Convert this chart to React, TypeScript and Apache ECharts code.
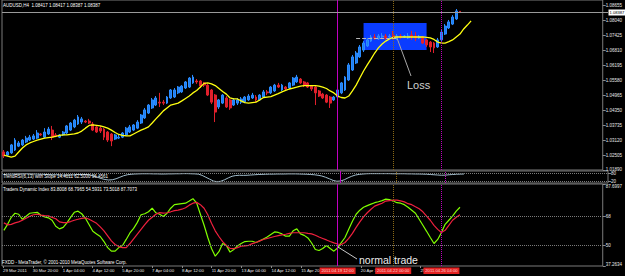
import React, { useEffect, useRef } from "react";
import * as echarts from "echarts";

const FONT = '"Liberation Sans", Arial, sans-serif';
const TXT = "#e8e8e8";

const timeLabels = ["29 Mar 2011", "30 Mar 20:00", "1 Apr 04:00", "4 Apr 12:00", "5 Apr 20:00", "7 Apr 04:00", "8 Apr 12:00", "11 Apr 20:00", "13 Apr 04:00", "14 Apr 12:00", "15 Apr 20:00", "19 Apr 04:00", "20 Apr 12:00", "21 Apr 20:00", "25 Apr 04:00", "26 Apr 12:00"];
// labels hidden under the vertical-line time markers
const coveredTimeLabels = ["19 Apr 04:00", "21 Apr 20:00", "26 Apr 12:00"];
const SLOT_COUNT = 162;
const LABEL_STEP = 8;

const priceTicks = [1.0189, 1.02505, 1.0312, 1.03735, 1.0435, 1.04965, 1.0558, 1.06195, 1.0681, 1.07425, 1.0804, 1.08655];
const priceMin = 1.01888;
const priceMax = 1.08881;
const bidPrice = 1.08387;

const tdiTicks = [37.2634, 50, 68, 87.6997];
const tdiLevels = [50, 68];
const slopeTicks = [20, 80];
const slopeMin = 4;
const slopeMax = 100;

// [open, close, low, high]
const candles = [
  [1.0263, 1.0246, 1.0238, 1.0271], [1.0250, 1.0263, 1.0246, 1.0267], [1.0259, 1.0292, 1.0255, 1.0296], [1.0271, 1.0312, 1.0267, 1.0320],
  [1.0287, 1.0300, 1.0283, 1.0308], [1.0292, 1.0312, 1.0287, 1.0316], [1.0304, 1.0320, 1.0300, 1.0329], [1.0312, 1.0324, 1.0308, 1.0333],
  [1.0316, 1.0329, 1.0312, 1.0337], [1.0320, 1.0341, 1.0316, 1.0353], [1.0337, 1.0333, 1.0329, 1.0341], [1.0324, 1.0345, 1.0320, 1.0361],
  [1.0337, 1.0357, 1.0333, 1.0366], [1.0353, 1.0324, 1.0312, 1.0370], [1.0333, 1.0329, 1.0324, 1.0341], [1.0324, 1.0333, 1.0320, 1.0337],
  [1.0333, 1.0345, 1.0329, 1.0349], [1.0341, 1.0370, 1.0337, 1.0374], [1.0353, 1.0382, 1.0349, 1.0386], [1.0366, 1.0394, 1.0361, 1.0399],
  [1.0378, 1.0407, 1.0374, 1.0415], [1.0386, 1.0399, 1.0378, 1.0407], [1.0390, 1.0386, 1.0382, 1.0394], [1.0390, 1.0382, 1.0378, 1.0399],
  [1.0378, 1.0353, 1.0349, 1.0386], [1.0366, 1.0345, 1.0341, 1.0374], [1.0361, 1.0349, 1.0341, 1.0370], [1.0357, 1.0324, 1.0312, 1.0361],
  [1.0345, 1.0312, 1.0304, 1.0349], [1.0337, 1.0308, 1.0287, 1.0341], [1.0316, 1.0333, 1.0312, 1.0337], [1.0320, 1.0324, 1.0316, 1.0333],
  [1.0324, 1.0341, 1.0320, 1.0345], [1.0333, 1.0361, 1.0329, 1.0366], [1.0345, 1.0366, 1.0341, 1.0374], [1.0353, 1.0374, 1.0349, 1.0378],
  [1.0361, 1.0386, 1.0357, 1.0394], [1.0382, 1.0415, 1.0378, 1.0419], [1.0403, 1.0436, 1.0399, 1.0444], [1.0423, 1.0456, 1.0419, 1.0460],
  [1.0444, 1.0477, 1.0440, 1.0485], [1.0456, 1.0485, 1.0452, 1.0493], [1.0468, 1.0464, 1.0448, 1.0506], [1.0468, 1.0464, 1.0456, 1.0477],
  [1.0464, 1.0489, 1.0460, 1.0493], [1.0485, 1.0518, 1.0481, 1.0522], [1.0489, 1.0518, 1.0485, 1.0526], [1.0506, 1.0530, 1.0501, 1.0534],
  [1.0510, 1.0534, 1.0506, 1.0538], [1.0526, 1.0551, 1.0522, 1.0555], [1.0530, 1.0567, 1.0526, 1.0571], [1.0547, 1.0571, 1.0543, 1.0580],
  [1.0555, 1.0551, 1.0543, 1.0563], [1.0555, 1.0534, 1.0526, 1.0559], [1.0547, 1.0538, 1.0530, 1.0551], [1.0538, 1.0497, 1.0493, 1.0543],
  [1.0518, 1.0468, 1.0460, 1.0522], [1.0497, 1.0427, 1.0386, 1.0501], [1.0448, 1.0477, 1.0440, 1.0481], [1.0464, 1.0497, 1.0460, 1.0501],
  [1.0485, 1.0448, 1.0444, 1.0493], [1.0477, 1.0444, 1.0436, 1.0481], [1.0456, 1.0477, 1.0452, 1.0485], [1.0464, 1.0477, 1.0456, 1.0485],
  [1.0468, 1.0481, 1.0460, 1.0489], [1.0468, 1.0489, 1.0464, 1.0493], [1.0477, 1.0493, 1.0473, 1.0501], [1.0485, 1.0497, 1.0481, 1.0506],
  [1.0489, 1.0477, 1.0468, 1.0497], [1.0477, 1.0497, 1.0473, 1.0501], [1.0489, 1.0510, 1.0485, 1.0518], [1.0510, 1.0506, 1.0497, 1.0518],
  [1.0506, 1.0530, 1.0501, 1.0534], [1.0514, 1.0538, 1.0510, 1.0543], [1.0538, 1.0530, 1.0526, 1.0547], [1.0518, 1.0538, 1.0514, 1.0543],
  [1.0530, 1.0522, 1.0518, 1.0534], [1.0526, 1.0547, 1.0522, 1.0551], [1.0538, 1.0567, 1.0534, 1.0571], [1.0551, 1.0571, 1.0547, 1.0580],
  [1.0563, 1.0547, 1.0543, 1.0567], [1.0551, 1.0538, 1.0530, 1.0555], [1.0547, 1.0530, 1.0526, 1.0551], [1.0534, 1.0522, 1.0514, 1.0538],
  [1.0530, 1.0506, 1.0456, 1.0534], [1.0514, 1.0493, 1.0489, 1.0518], [1.0501, 1.0485, 1.0481, 1.0506], [1.0497, 1.0468, 1.0464, 1.0501],
  [1.0489, 1.0464, 1.0444, 1.0493], [1.0477, 1.0489, 1.0473, 1.0493], [1.0489, 1.0518, 1.0485, 1.0522], [1.0506, 1.0547, 1.0501, 1.0551],
  [1.0518, 1.0571, 1.0514, 1.0575], [1.0559, 1.0621, 1.0555, 1.0629], [1.0600, 1.0654, 1.0596, 1.0662], [1.0629, 1.0670, 1.0625, 1.0678],
  [1.0654, 1.0695, 1.0650, 1.0703], [1.0682, 1.0711, 1.0674, 1.0719], [1.0699, 1.0724, 1.0695, 1.0732], [1.0719, 1.0736, 1.0715, 1.0744],
  [1.0736, 1.0732, 1.0724, 1.0748], [1.0728, 1.0740, 1.0724, 1.0748], [1.0736, 1.0740, 1.0728, 1.0752], [1.0740, 1.0732, 1.0724, 1.0748],
  [1.0736, 1.0740, 1.0728, 1.0748], [1.0744, 1.0732, 1.0724, 1.0761], [1.0732, 1.0740, 1.0724, 1.0748], [1.0740, 1.0736, 1.0728, 1.0748],
  [1.0736, 1.0740, 1.0732, 1.0744], [1.0732, 1.0740, 1.0728, 1.0752], [1.0744, 1.0736, 1.0724, 1.0761], [1.0740, 1.0732, 1.0719, 1.0756],
  [1.0732, 1.0736, 1.0728, 1.0744], [1.0736, 1.0711, 1.0707, 1.0740], [1.0724, 1.0703, 1.0695, 1.0728], [1.0715, 1.0695, 1.0674, 1.0719],
  [1.0711, 1.0691, 1.0670, 1.0715], [1.0695, 1.0724, 1.0691, 1.0732], [1.0724, 1.0756, 1.0719, 1.0765], [1.0748, 1.0781, 1.0744, 1.0789],
  [1.0773, 1.0798, 1.0769, 1.0806], [1.0789, 1.0818, 1.0785, 1.0826], [1.0810, 1.0843, 1.0806, 1.0851], [1.08417, 1.08387, 1.08387, 1.08417],
];

const maValues = [
  1.0250, 1.0246, 1.0242, 1.0246, 1.0263, 1.0279, 1.0292, 1.0300, 1.0306, 1.0312,
  1.0316, 1.0320, 1.0322, 1.0324, 1.0327, 1.0331, 1.0333, 1.0333, 1.0335, 1.0337,
  1.0341, 1.0349, 1.0361, 1.0372, 1.0374, 1.0372, 1.0370, 1.0366, 1.0361, 1.0353,
  1.0343, 1.0335, 1.0331, 1.0329, 1.0329, 1.0337, 1.0345, 1.0353, 1.0359, 1.0366,
  1.0382, 1.0399, 1.0415, 1.0432, 1.0444, 1.0456, 1.0460, 1.0464, 1.0473, 1.0483,
  1.0493, 1.0506, 1.0516, 1.0530, 1.0545, 1.0547, 1.0543, 1.0536, 1.0524, 1.0512,
  1.0501, 1.0485, 1.0481, 1.0481, 1.0473, 1.0466, 1.0464, 1.0466, 1.0468, 1.0477,
  1.0487, 1.0489, 1.0491, 1.0497, 1.0503, 1.0510, 1.0516, 1.0522, 1.0526, 1.0530,
  1.0534, 1.0536, 1.0536, 1.0536, 1.0536, 1.0534, 1.0530, 1.0524, 1.0514, 1.0506,
  1.0493, 1.0487, 1.0485, 1.0493, 1.0514, 1.0538, 1.0567, 1.0596, 1.0621, 1.0645,
  1.0670, 1.0691, 1.0707, 1.0719, 1.0728, 1.0734, 1.0736, 1.0736, 1.0736, 1.0736,
  1.0736, 1.0736, 1.0736, 1.0736, 1.0734, 1.0732, 1.0726, 1.0715, 1.0711, 1.0711,
  1.0717, 1.0724, 1.0736, 1.0748, 1.0769, 1.0785, 1.0802,
];

const tdiPrice = [
  59.2, 62.9, 67.2, 69.7, 69.1, 66.0, 67.9, 69.7, 70.0, 70.3,
  68.5, 67.5, 66.9, 65.4, 61.7, 60.1, 61.0, 63.8, 67.2, 70.3,
  71.0, 69.4, 66.6, 62.6, 58.6, 57.0, 55.4, 52.3, 48.6, 46.4,
  46.4, 48.6, 49.9, 53.6, 57.6, 60.4, 64.1, 68.8, 69.4, 70.6,
  72.8, 70.0, 69.1, 67.7, 69.7, 72.8, 75.0, 75.3, 75.6, 75.9,
  77.2, 78.7, 75.9, 69.1, 62.3, 54.8, 48.0, 43.3, 46.1, 51.1,
  49.9, 45.8, 47.4, 49.6, 51.1, 52.3, 52.5, 52.5, 51.7, 52.7,
  53.9, 55.1, 56.7, 58.2, 57.9, 57.0, 55.6, 55.6, 58.9, 60.1,
  57.0, 56.1, 54.5, 51.4, 47.4, 46.8, 48.0, 49.9, 48.0, 46.4,
  48.3, 51.7, 54.8, 59.8, 64.8, 69.1, 71.6, 73.4, 74.4, 75.3,
  76.2, 76.8, 77.5, 78.4, 78.1, 77.2, 76.2, 75.9, 75.0, 73.4,
  71.6, 69.7, 66.0, 62.3, 58.6, 54.8, 51.1, 53.6, 57.9, 62.9,
  65.4, 67.9, 71.0, 73.4,
];

const tdiSignal = [
  63.8, 62.6, 62.9, 63.8, 64.4, 65.4, 66.6, 67.9, 68.8, 69.1,
  68.6, 68.3, 68.1, 67.2, 66.3, 64.4, 63.9, 63.9, 64.6, 65.4,
  66.0, 66.6, 66.9, 66.0, 64.8, 63.5, 61.3, 58.9, 55.8, 52.7,
  50.5, 49.2, 48.6, 48.6, 51.1, 54.0, 56.9, 59.8, 62.7, 65.4,
  67.2, 69.1, 70.1, 69.8, 70.0, 70.6, 71.3, 71.6, 72.2, 73.1,
  74.7, 75.9, 76.4, 75.0, 72.8, 68.8, 63.5, 58.9, 55.4, 52.3,
  49.9, 48.1, 47.9, 48.6, 49.4, 49.7, 50.0, 51.0, 51.7, 52.7,
  53.6, 54.2, 54.8, 55.4, 55.9, 56.4, 56.8, 57.3, 57.7, 57.7,
  57.7, 57.7, 57.3, 57.0, 56.2, 55.1, 54.2, 53.3, 52.3, 51.5,
  50.8, 50.5, 51.7, 54.2, 57.3, 61.0, 64.4, 67.5, 70.0, 72.2,
  74.1, 75.0, 75.9, 77.2, 77.5, 77.8, 77.8, 77.3, 76.7, 75.6,
  75.0, 73.7, 72.5, 70.6, 67.9, 65.4, 62.3, 59.8, 57.9, 59.2,
  62.3, 65.4, 67.2, 68.8,
];

const slopeValues = [
  72, 74, 75, 76, 77, 78, 78, 77, 76,
  75, 74, 73, 72, 71, 70, 68, 67, 66, 68, 70, 72,
  73, 72, 68, 60, 50, 40,
  32, 28, 30, 38,
  50, 62, 70, 74, 76,
  77, 78, 78, 78, 77, 77, 76, 76, 77, 77, 78, 78, 79, 79, 78, 77, 75,
  65, 50, 35, 20, 14, 18,
  30, 45, 58, 64, 66, 65, 66, 68,
  70, 72, 73, 74, 75, 75, 76, 76, 76, 77, 77, 77, 76, 75, 74, 72, 70, 66, 60,
  50, 38, 25, 18, 20, 30, 45,
  58, 68, 73, 76, 78, 79, 79, 79, 79, 79, 79, 78, 78, 78, 78, 77, 77, 76, 76, 75, 74, 72, 70, 68,
  66, 67, 70, 72, 74, 75, 76,
];

const vLines = [
  { index: 90, color: "#c000c0", type: "solid", label: "2011.04.19 12:00" },
  { index: 105, color: "#8b6914", type: "dotted", label: "2011.04.22 00:00" },
  { index: 118, color: "#c000c0", type: "dotted", label: "2011.04.26 04:00" },
];
const lossBox = { from: 97, to: 114, high: 1.0793, low: 1.0682 };
const entryLine = { from: 95, to: 106, price: 1.0732 };

const categories = Array.from({ length: SLOT_COUNT }, (_, i) => String(i));
const isLabelIdx = (i: number) =>
  i % LABEL_STEP === 0 &&
  i / LABEL_STEP < timeLabels.length &&
  coveredTimeLabels.indexOf(timeLabels[i / LABEL_STEP]) < 0;

const vLineMarks = () =>
  vLines.map((v) => ({
    xAxis: v.index,
    lineStyle: { color: v.color, type: v.type, width: 1 },
  }));

function buildOption(): any {
  const hiddenX = (gi: number) => ({
    type: "category",
    gridIndex: gi,
    data: categories,
    boundaryGap: true,
    axisLine: { show: false },
    axisTick: { show: false },
    axisLabel: { show: false },
    splitLine: { show: false },
  });
  const gridBase = { left: 2, right: 17, show: true, borderColor: "#7a7a7a", borderWidth: 1 };
  return {
    animation: false,
    backgroundColor: "#000000",
    textStyle: { fontFamily: FONT },
    grid: [
      { ...gridBase, top: 0, height: 170 },
      { ...gridBase, top: 171, height: 12 },
      { ...gridBase, top: 184, height: 82 },
      { left: -1, right: 20, top: 184, height: 82, show: false },
    ],
    xAxis: [
      hiddenX(0),
      hiddenX(1),
      hiddenX(2),
      {
        ...hiddenX(3),
        axisTick: {
          show: true,
          alignWithLabel: true,
          interval: (i: number) => isLabelIdx(i),
          length: 2,
          lineStyle: { color: "#8a8a8a" },
        },
        axisLabel: {
          show: true,
          interval: (i: number) => isLabelIdx(i),
          formatter: (v: string) => {
            const i = Number(v);
            return isLabelIdx(i) ? timeLabels[i / LABEL_STEP] : "";
          },
          align: "left",
          margin: 2,
          fontSize: 4.3,
          color: TXT,
          fontFamily: FONT,
        },
      },
    ],
    yAxis: [
      {
        type: "value",
        gridIndex: 0,
        position: "right",
        min: priceMin,
        max: priceMax,
        axisLine: { show: false },
        splitLine: { show: false },
        axisTick: { show: true, customValues: priceTicks, length: 3, lineStyle: { color: "#8a8a8a" } },
        axisLabel: {
          customValues: priceTicks,
          formatter: (v: number) => v.toFixed(5),
          fontSize: 4.5,
          color: TXT,
          margin: 3,
          fontFamily: FONT,
        },
      },
      {
        type: "value",
        gridIndex: 1,
        position: "right",
        min: slopeMin,
        max: slopeMax,
        axisLine: { show: false },
        splitLine: { show: false },
        axisTick: { show: true, customValues: slopeTicks, length: 3, lineStyle: { color: "#8a8a8a" } },
        axisLabel: { customValues: slopeTicks, fontSize: 4.5, color: TXT, margin: 3, fontFamily: FONT },
      },
      {
        type: "value",
        gridIndex: 2,
        position: "right",
        min: tdiTicks[0],
        max: tdiTicks[tdiTicks.length - 1],
        axisLine: { show: false },
        splitLine: { show: false },
        axisTick: { show: true, customValues: tdiTicks, length: 3, lineStyle: { color: "#8a8a8a" } },
        axisLabel: {
          customValues: tdiTicks,
          formatter: (v: number) => (v > 87 ? "{t|87.6997}" : v < 38 ? "{b|37.2634}" : String(Math.round(v))),
          rich: {
            t: { padding: [5, 0, 0, 0], fontSize: 4.5, color: TXT, fontFamily: FONT },
            b: { padding: [0, 0, 4, 0], fontSize: 4.5, color: TXT, fontFamily: FONT },
          },
          fontSize: 4.5,
          color: TXT,
          margin: 3,
          fontFamily: FONT,
        },
      },
      { type: "value", gridIndex: 3, show: false, min: 0, max: 1 },
    ],
    series: [
      {
        type: "candlestick",
        xAxisIndex: 0,
        yAxisIndex: 0,
        data: candles,
        barWidth: 2.4,
        itemStyle: {
          color: "#1f7ff0",
          color0: "#e0202c",
          borderColor: "#2b8cff",
          borderColor0: "#e0202c",
          borderWidth: 1,
        },
        markArea: {
          silent: true,
          itemStyle: { color: "#0a3cff", opacity: 1 },
          data: [[{ xAxis: lossBox.from, yAxis: lossBox.high }, { xAxis: lossBox.to, yAxis: lossBox.low }]],
        },
        markLine: {
          silent: true,
          symbol: ["none", "none"],
          label: { show: false },
          data: [
            ...vLineMarks(),
            [
              { coord: [entryLine.from, entryLine.price], lineStyle: { color: "#b8b8b8", type: "dashed", width: 1 } },
              { coord: [entryLine.to, entryLine.price] },
            ],
          ],
        },
      },
      {
        type: "line",
        xAxisIndex: 0,
        yAxisIndex: 0,
        data: maValues,
        symbol: "none",
        lineStyle: { color: "#ffff10", width: 1.3 },
        itemStyle: { color: "#ffff10" },
        z: 3,
      },
      {
        type: "line",
        xAxisIndex: 1,
        yAxisIndex: 1,
        data: slopeValues,
        symbol: "none",
        lineStyle: { width: 1, color: "#a2bccb" },
        itemStyle: { color: "#a2bccb" },
        markLine: {
          silent: true,
          symbol: ["none", "none"],
          label: { show: false },
          data: [
            ...slopeTicks.map((v) => ({ yAxis: v, lineStyle: { color: "#7a7a7a", type: "dotted", width: 1 } })),
            ...vLineMarks(),
          ],
        },
      },
      {
        type: "line",
        xAxisIndex: 2,
        yAxisIndex: 2,
        data: tdiPrice,
        symbol: "none",
        lineStyle: { color: "#80ff00", width: 1.2 },
        itemStyle: { color: "#80ff00" },
        markLine: {
          silent: true,
          symbol: ["none", "none"],
          label: { show: false },
          data: [
            ...tdiLevels.map((v) => ({ yAxis: v, lineStyle: { color: "#7a7a7a", type: "dotted", width: 1 } })),
            ...vLineMarks(),
          ],
        },
      },
      {
        type: "line",
        xAxisIndex: 2,
        yAxisIndex: 2,
        data: tdiSignal,
        symbol: "none",
        lineStyle: { color: "#f0203e", width: 1.2 },
        itemStyle: { color: "#f0203e" },
      },
    ],
  };
}

export default function App() {
  const ref = useRef<HTMLDivElement>(null);
  useEffect(() => {
    if (!ref.current) return;
    const chart = echarts.init(ref.current, null, { renderer: "svg" });
    chart.setOption(buildOption());

    const txt = (text: string, x: number, y: number, size: number, fill: string) => ({
      type: "text",
      x,
      y,
      z: 50,
      silent: true,
      style: { text, fill, fontSize: size, fontFamily: FONT, verticalAlign: "middle", align: "left" },
    });
    const graphics: any[] = [
      txt("AUDUSD,H4  1.08417 1.08417 1.08387 1.08387", 3, 5, 4.5, "#ffffff"),
      txt("TrendRSI(6,13) with Slope 14.4011 62.5000 96.4561", 3, 176.5, 4.5, "#ffffff"),
      txt("Traders Dynamic Index 83.8008 68.7965 54.5931 73.5018 87.7073", 3, 189, 4.5, "#ffffff"),
      txt("FXDD - MetaTrader, \u00a9 2001-2010 MetaQuotes Software Corp.", 2, 262, 4.5, "#ffffff"),
      txt("Loss", 407, 85, 11, "#cfcfcf"),
      txt("normal trade", 359, 259.5, 10.5, "#ececec"),
      { type: "line", z: 50, silent: true, shape: { x1: 397, y1: 38, x2: 411, y2: 76 }, style: { stroke: "#a8a8a8", lineWidth: 1 } },
      { type: "line", z: 50, silent: true, shape: { x1: 338, y1: 247, x2: 357, y2: 259 }, style: { stroke: "#c8c8c8", lineWidth: 1 } },
    ];

    // bid line, placed through the price axis
    let bidY: any = null;
    try {
      bidY = chart.convertToPixel({ yAxisIndex: 0 } as any, bidPrice);
    } catch (e) {
      bidY = null;
    }
    if (typeof bidY === "number" && !isNaN(bidY)) {
      const yy = Math.round(bidY) + 0.5;
      graphics.push({
        type: "line",
        z: 40,
        silent: true,
        shape: { x1: 2, y1: yy, x2: 608, y2: yy },
        style: { stroke: "#9a9a9a", lineWidth: 1 },
      });
      graphics.push({
        type: "rect",
        z: 62,
        silent: true,
        shape: { x: 608.5, y: yy - 3, width: 16.5, height: 6 },
        style: { fill: "#ffffff" },
      });
      graphics.push({
        type: "text",
        z: 63,
        silent: true,
        x: 609.5,
        y: yy,
        style: { text: bidPrice.toFixed(5), fill: "#000000", fontSize: 4.1, fontFamily: FONT, align: "left", verticalAlign: "middle" },
      });
    }

    vLines.forEach((v) => {
      let px: any = null;
      try {
        px = chart.convertToPixel({ xAxisIndex: 2 } as any, v.index);
      } catch (e) {
        px = null;
      }
      if (typeof px !== "number" || isNaN(px)) return;
      graphics.push({
        type: "rect",
        z: 60,
        silent: true,
        shape: { x: px - 18, y: 267.5, width: 36, height: 6.5 },
        style: { fill: "#e42222" },
      });
      graphics.push({
        type: "text",
        z: 61,
        silent: true,
        x: px,
        y: 270.8,
        style: { text: v.label, fill: "#ffd6d6", fontSize: 4.2, fontFamily: FONT, align: "center", verticalAlign: "middle" },
      });
    });
    chart.setOption({ graphic: graphics });
    return () => chart.dispose();
  }, []);
  return (
    <div
      ref={ref}
      style={{ position: "fixed", left: 0, top: 0, width: 625, height: 276, background: "#000000" }}
    />
  );
}
